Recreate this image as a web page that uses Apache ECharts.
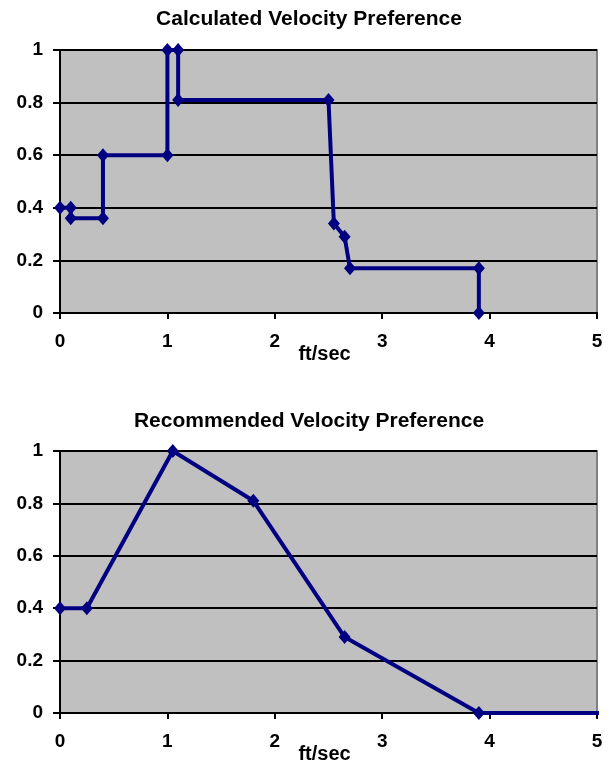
<!DOCTYPE html>
<html>
<head>
<meta charset="utf-8">
<script src="https://cdn.jsdelivr.net/npm/echarts@6/dist/echarts.min.js"></script>
<style>
html,body{margin:0;padding:0;background:#fff;}
#chart{width:613px;height:766px;}
</style>
</head>
<body>
<div id="chart"></div>
<script>
// Data
const titles = ['Calculated Velocity Preference', 'Recommended Velocity Preference'];
const xAxisName = 'ft/sec';
const calcX = [0, 0.1, 0.1, 0.4, 0.4, 1.0, 1.0, 1.1, 1.1, 2.5, 2.55, 2.65, 2.7, 3.9, 3.9];
const calcY = [0.4, 0.4, 0.36, 0.36, 0.6, 0.6, 1.0, 1.0, 0.81, 0.81, 0.34, 0.29, 0.17, 0.17, 0];
const recX = [0, 0.25, 1.05, 1.8, 2.65, 3.9, 5.07];
const recY = [0.4, 0.4, 1.0, 0.81, 0.29, 0, 0];
const recMarkerless = [false, false, false, false, false, false, true];
const xTicks = [0, 1, 2, 3, 4, 5];
const yTicks = [0, 0.2, 0.4, 0.6, 0.8, 1];

const FONT = '"Liberation Sans", Arial, sans-serif';
const NAVY = '#000080';

const calcData = calcX.map((x, i) => [x, calcY[i]]);
const recData = recX.map((x, i) => recMarkerless[i]
  ? { value: [x, recY[i]], symbol: 'none' }
  : [x, recY[i]]);

function xAxisCfg(gridIndex) {
  return {
    type: 'value', gridIndex,
    min: xTicks[0], max: xTicks[xTicks.length - 1], interval: xTicks[1] - xTicks[0],
    name: xAxisName, nameLocation: 'middle', nameGap: 31, nameMoveOverlap: false,
    nameTextStyle: { fontFamily: FONT, fontWeight: 'bold', fontSize: 20, color: '#000', padding: [0, 8, 0, 0] },
    axisLine: { show: true, onZero: false, lineStyle: { color: '#000', width: 2 } },
    axisTick: { show: true, length: 6, lineStyle: { color: '#000', width: 2 } },
    axisLabel: { margin: 19, fontFamily: FONT, fontWeight: 'bold', fontSize: 19, color: '#000' },
    splitLine: { show: false }
  };
}
function yAxisCfg(gridIndex) {
  return {
    type: 'value', gridIndex,
    min: yTicks[0], max: yTicks[yTicks.length - 1], interval: yTicks[1] - yTicks[0],
    axisLine: { show: true, lineStyle: { color: '#000', width: 2 } },
    axisTick: { show: true, length: 7, lineStyle: { color: '#000', width: 2 } },
    axisLabel: { margin: 17, fontFamily: FONT, fontWeight: 'bold', fontSize: 19, color: '#000' },
    splitLine: { show: true, lineStyle: { color: '#000', width: 2 } }
  };
}
function seriesCfg(idx, data) {
  return {
    type: 'line', xAxisIndex: idx, yAxisIndex: idx, data,
    symbol: 'diamond', symbolSize: [12, 14], showAllSymbol: true,
    clip: false, animation: false,
    lineStyle: { color: NAVY, width: 4 },
    itemStyle: { color: NAVY }
  };
}

const chart = echarts.init(document.getElementById('chart'), null, { renderer: 'canvas' });
chart.setOption({
  backgroundColor: '#fff',
  animation: false,
  title: [
    { text: titles[0], left: 309, top: 9, padding: 0, textAlign: 'center',
      textStyle: { fontFamily: FONT, fontWeight: 'bold', fontSize: 21, color: '#000' } },
    { text: titles[1], left: 309, top: 411, padding: 0, textAlign: 'center',
      textStyle: { fontFamily: FONT, fontWeight: 'bold', fontSize: 21, color: '#000' } }
  ],
  grid: [
    { left: 60, top: 50, width: 537, height: 263, show: true, backgroundColor: '#c0c0c0', borderColor: '#808080', borderWidth: 2 },
    { left: 60, top: 451, width: 537, height: 262, show: true, backgroundColor: '#c0c0c0', borderColor: '#808080', borderWidth: 2 }
  ],
  xAxis: [xAxisCfg(0), xAxisCfg(1)],
  yAxis: [yAxisCfg(0), yAxisCfg(1)],
  series: [seriesCfg(0, calcData), seriesCfg(1, recData)]
});
</script>
</body>
</html>
